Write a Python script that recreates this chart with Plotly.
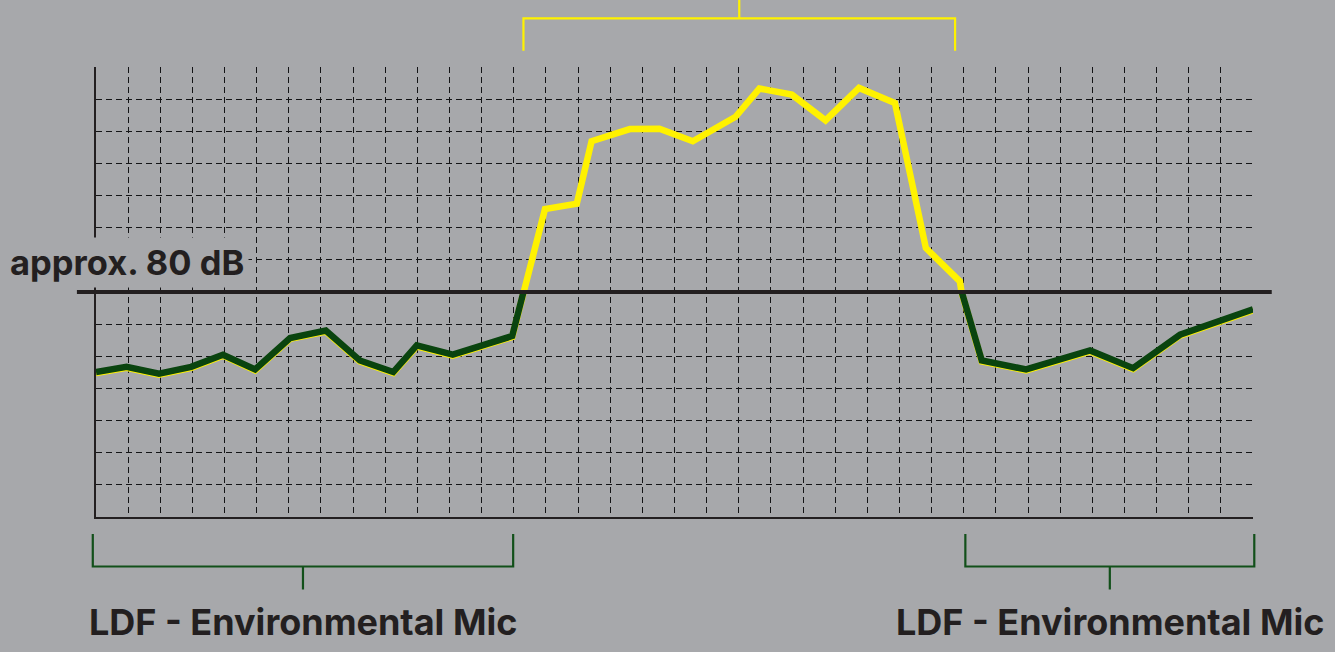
import numpy as np
import plotly.graph_objects as go

# ---------------- data (grid units: 1 unit = one grid cell) ----------------
time_x = [0, 0.95, 1.96, 2.96, 3.95, 4.95, 6.04, 7.15, 8.21, 9.25, 9.98, 11.1, 12.95,
          13.97, 14.96, 15.42, 16.61, 17.53, 18.57, 19.9, 20.64, 21.65, 22.7, 23.74,
          24.86, 25.82, 26.88, 26.93,
          27.56, 28.94, 30.93, 32.27, 33.73, 36.0]
level_y = [4.48, 4.64, 4.43, 4.64, 5.02, 4.56, 5.54, 5.77, 4.84, 4.48, 5.31, 5.02, 5.6,
           9.58, 9.75, 11.69, 12.07, 12.08, 11.69, 12.45, 13.33, 13.14, 12.34, 13.35,
           12.88, 8.37, 7.33, 7.0,
           4.84, 4.56, 5.15, 4.6, 5.64, 6.43]
threshold = 7.0              # "approx. 80 dB"
threshold_label = "approx. 80 dB"
section_labels = ["LDF - Environmental Mic", "LDF - Environmental Mic"]
x_range = [0, 36]
y_range = [0, 14]

# ---------------- styles ----------------
BG = "#a7a8ab"
YELLOW = "#fff200"
GREEN = "#0a440f"
BRACKET_GREEN = "#12501a"
TEXT = "#231f20"
GRID = "#141416"
FONT = "Inter"

W, H = 1335, 652
M = dict(l=96, r=82, t=67, b=135)

x = np.array(time_x, dtype=float)
y = np.array(level_y, dtype=float)

# split into below-threshold (green) runs, interpolating crossings
segments = []
cur = []
for i in range(len(x)):
    if i > 0:
        y0, y1 = y[i - 1], y[i]
        if (y0 - threshold) * (y1 - threshold) < 0:
            xc = x[i - 1] + (threshold - y0) / (y1 - y0) * (x[i] - x[i - 1])
            if y1 > threshold:
                cur.append((xc, threshold))
                segments.append(cur)
                cur = []
            else:
                cur = [(xc, threshold)]
    if y[i] < threshold or (y[i] == threshold and i + 1 < len(y) and y[i + 1] < threshold):
        cur.append((x[i], y[i]))
if cur:
    segments.append(cur)

fig = go.Figure()
fig.add_trace(go.Scatter(x=x, y=y, mode="lines",
                         line=dict(color=YELLOW, width=6.5), hoverinfo="skip"))
for seg in segments:
    sx = [p[0] for p in seg]
    sy = [p[1] + 0.03 for p in seg]
    fig.add_trace(go.Scatter(x=sx, y=sy, mode="lines",
                             line=dict(color=GREEN, width=6.5), hoverinfo="skip"))


def to_paper_x(v):
    return (v - x_range[0]) / (x_range[1] - x_range[0])


shapes = []
# threshold line, extending a little beyond the plot area
shapes.append(dict(type="line", xref="paper", yref="y", x0=-0.0165, x1=1.0162,
                   y0=threshold, y1=threshold, line=dict(color=TEXT, width=4),
                   layer="above"))

# brackets: (x start, x end, paper y of ends, paper y of bar, paper y of stem tip, colour)
brackets = [
    (13.3, 26.73, 1.036, 1.108, 1.16, YELLOW),
    (-0.1, 12.98, -0.038, -0.110, -0.161, BRACKET_GREEN),
    (27.05, 36.04, -0.038, -0.110, -0.161, BRACKET_GREEN),
]
for xa, xb, ye, yb, ys, col in brackets:
    pa, pb = to_paper_x(xa), to_paper_x(xb)
    pm = (pa + pb) / 2
    path = f"M {pa} {ye} L {pa} {yb} L {pb} {yb} L {pb} {ye} M {pm} {yb} L {pm} {ys}"
    shapes.append(dict(type="path", xref="paper", yref="paper", path=path,
                       line=dict(color=col, width=2.2)))

annotations = [
    dict(text=f"<b>{threshold_label}</b>", xref="paper", yref="y",
         x=-0.0788, y=threshold + 0.93, xanchor="left", yanchor="middle",
         showarrow=False, bgcolor=BG, borderpad=4,
         font=dict(family=FONT, size=34.5, color=TEXT)),
]
for (xa, xb, *_rest), lab in zip(brackets[1:], section_labels):
    pm = (to_paper_x(xa) + to_paper_x(xb)) / 2
    annotations.append(dict(text=f"<b>{lab}</b>", xref="paper", yref="paper",
                            x=pm, y=-0.233, xanchor="center", yanchor="middle",
                            showarrow=False,
                            font=dict(family=FONT, size=36, color=TEXT)))

fig.update_layout(
    width=W, height=H, margin=M,
    paper_bgcolor=BG, plot_bgcolor=BG,
    showlegend=False,
    shapes=shapes, annotations=annotations,
    xaxis=dict(range=x_range, dtick=1, tick0=0, showticklabels=False, ticks="",
               showgrid=True, gridcolor=GRID, gridwidth=1, griddash="6px,4px",
               zeroline=False, showline=True, linecolor=TEXT, linewidth=2,
               fixedrange=True),
    yaxis=dict(range=y_range, dtick=1, tick0=0, showticklabels=False, ticks="",
               showgrid=True, gridcolor=GRID, gridwidth=1, griddash="6px,4px",
               zeroline=False, showline=True, linecolor=TEXT, linewidth=2,
               fixedrange=True),
)

fig.write_html("out.html", config={"displayModeBar": False},
               post_script="document.body.style.margin='0';document.body.style.background='" + BG + "';")
